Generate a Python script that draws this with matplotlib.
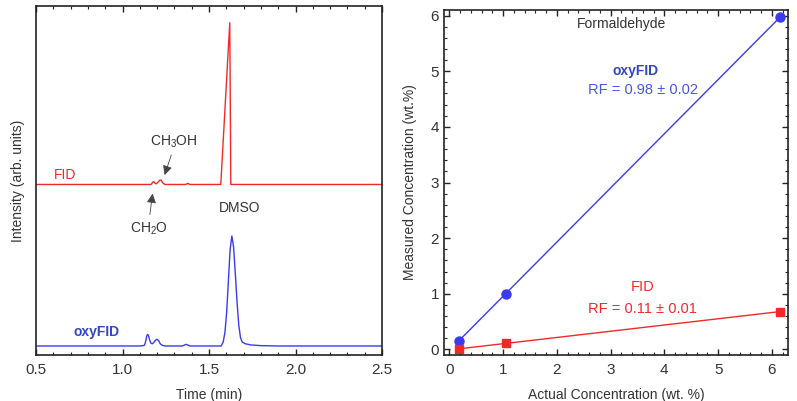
import numpy as np
import matplotlib
matplotlib.use("Agg")
import matplotlib.pyplot as plt
from matplotlib.ticker import MultipleLocator

plt.rcParams['font.family'] = ['Liberation Sans', 'DejaVu Sans']
plt.rcParams['mathtext.fontset'] = 'custom'
plt.rcParams['mathtext.rm'] = 'Liberation Sans'
plt.rcParams['mathtext.default'] = 'rm'

# Chromatograms (time in min, intensity in arb. units, baseline = 0)
fid_time = [0.5, 1.165, 1.172, 1.18, 1.188, 1.195, 1.205, 1.215, 1.223, 1.232,
            1.245, 1.365, 1.378, 1.39, 1.568, 1.620, 1.626, 2.5]
fid_signal = [0, 0, 0.015, 0.027, 0.012, 0.006, 0.02, 0.038, 0.04, 0.015,
              0, 0, 0.01, 0, 0, 1.47, 0, 0]

oxy_time = [0.5, 1.10, 1.125, 1.13, 1.135, 1.14, 1.145, 1.15, 1.155, 1.16, 1.165,
            1.172, 1.18, 1.19, 1.2, 1.21, 1.218, 1.23, 1.245, 1.345, 1.358,
            1.368, 1.378, 1.39, 1.57, 1.582, 1.592, 1.602, 1.612, 1.622, 1.632,
            1.642, 1.652, 1.662, 1.672, 1.682, 1.692, 1.71, 1.74, 1.80, 1.9, 2.5]
oxy_signal = [0, 0, 0.005, 0.02, 0.05, 0.09, 0.106, 0.095, 0.065, 0.04, 0.025,
              0.02, 0.03, 0.052, 0.061, 0.045, 0.02, 0.006, 0, 0, 0.008,
              0.015, 0.008, 0, 0, 0.037, 0.122, 0.306, 0.59, 0.877, 1.0,
              0.90, 0.66, 0.40, 0.19, 0.076, 0.035, 0.02, 0.01, 0.003, 0, 0]
fid_offset = 1.468

# Calibration (wt. %)
actual_conc = [0.18, 1.05, 6.15]
oxyfid_measured = [0.16, 1.0, 5.97]
fid_measured = [0.01, 0.11, 0.68]

blue = '#3a3af0'
red = '#f02a2a'
txt = '#333333'

fig = plt.figure(figsize=(7.97, 4.01), dpi=100)

# ---- left: chromatograms ----
ax1 = fig.add_axes([0.0452, 0.1147, 0.4341, 0.8703])
ax1.plot(fid_time, np.array(fid_signal) + fid_offset, color=red, lw=1.0)
ax1.plot(oxy_time, oxy_signal, color=blue, lw=1.0)
ax1.set_xlim(0.5, 2.5)
ax1.set_ylim(-0.082, 3.09)
ax1.xaxis.set_minor_locator(MultipleLocator(0.1))
ax1.set_xticks([0.5, 1.0, 1.5, 2.0, 2.5])
ax1.set_xticklabels(['0.5', '1.0', '1.5', '2.0', '2.5'])
ax1.set_yticks([])
ax1.tick_params(axis='x', which='both', direction='in', top=True, labelsize=11,
                colors='#222222', labelcolor=txt, pad=6)
ax1.tick_params(axis='x', which='major', length=4, width=1.0)
ax1.tick_params(axis='x', which='minor', length=2.5, width=0.8)
for s in ax1.spines.values():
    s.set_linewidth(1.2)
    s.set_color('#222222')
ax1.set_xlabel('Time (min)', fontsize=10, color=txt, labelpad=8)
ax1.set_ylabel('Intensity (arb. units)', fontsize=10, color=txt, labelpad=8)

ax1.text(0.667, 1.555, 'FID', color=red, fontsize=10, ha='center', va='center')
ax1.text(0.849, 0.13, 'oxyFID', color='#3446c8', fontsize=10, fontweight='bold',
         ha='center', va='center')
ax1.text(1.677, 1.255, 'DMSO', color=txt, fontsize=10, ha='center', va='center')
ax1.text(1.297, 1.857, 'CH$_3$OH', color=txt, fontsize=10, ha='center', va='center')
ax1.text(1.151, 1.064, 'CH$_2$O', color=txt, fontsize=10, ha='center', va='center')
arrow_style = dict(arrowstyle='-|>', color='#444444', lw=0.6, mutation_scale=14)
ax1.annotate('', xy=(1.238, 1.53), xytext=(1.287, 1.76), arrowprops=arrow_style)
ax1.annotate('', xy=(1.176, 1.41), xytext=(1.156, 1.17), arrowprops=arrow_style)

# ---- right: calibration ----
ax2 = fig.add_axes([0.557, 0.1147, 0.4317, 0.8603])
for meas, col, mk, ms in [(oxyfid_measured, blue, 'o', 6.5), (fid_measured, red, 's', 5.5)]:
    slope, icpt = np.polyfit(actual_conc, meas, 1)
    xfit = np.array([min(actual_conc), max(actual_conc)])
    ax2.plot(xfit, slope * xfit + icpt, color=col, lw=1.0)
    ax2.plot(actual_conc, meas, mk, color=col, ms=ms, mec=col)
ax2.set_xlim(-0.1, 6.3)
ax2.set_ylim(-0.1, 6.1)
ax2.xaxis.set_major_locator(MultipleLocator(1))
ax2.xaxis.set_minor_locator(MultipleLocator(0.2))
ax2.yaxis.set_major_locator(MultipleLocator(1))
ax2.yaxis.set_minor_locator(MultipleLocator(0.2))
ax2.tick_params(which='both', direction='in', top=True, right=True, labelsize=11,
                colors='#222222', labelcolor=txt)
ax2.tick_params(which='major', length=4, width=1.0)
ax2.tick_params(which='minor', length=2.5, width=0.8)
ax2.tick_params(axis='x', pad=6)
for s in ax2.spines.values():
    s.set_linewidth(1.2)
    s.set_color('#222222')
ax2.set_xlabel('Actual Concentration (wt. %)', fontsize=10, color=txt, labelpad=8)
ax2.set_ylabel('Measured Concentration (wt.%)', fontsize=10, color=txt, labelpad=10)

ax2.text(3.21, 5.84, 'Formaldehyde', color=txt, fontsize=10, ha='center', va='center')
ax2.text(3.46, 5.0, 'oxyFID', color='#3446c8', fontsize=10, fontweight='bold',
         ha='center', va='center')
ax2.text(3.6, 4.67, 'RF = 0.98 ± 0.02', color='#4a55e6', fontsize=10.5,
         ha='center', va='center')
ax2.text(3.6, 1.12, 'FID', color=red, fontsize=10.5, ha='center', va='center')
ax2.text(3.6, 0.72, 'RF = 0.11 ± 0.01', color=red, fontsize=10.5,
         ha='center', va='center')

fig.savefig('out.png', dpi=100)
